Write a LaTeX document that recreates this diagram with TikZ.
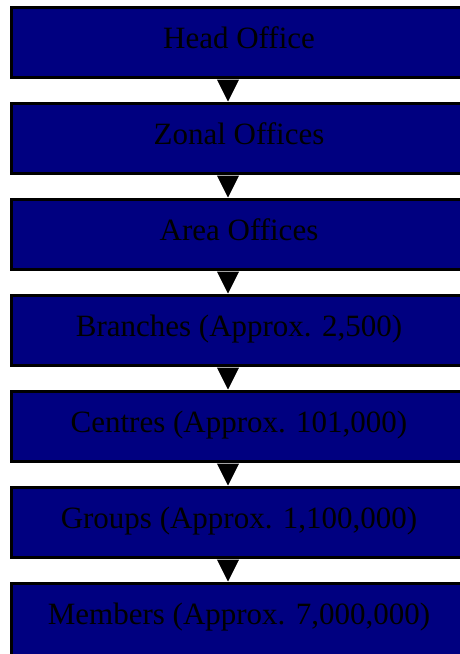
\documentclass[tikz,border=0pt]{standalone}
\usepackage{fontspec}
\setmainfont{Liberation Serif}
\usetikzlibrary{arrows.meta}
\definecolor{boxnavy}{HTML}{000080}
\begin{document}
\begin{tikzpicture}[x=1pt,y=-1pt,
  level/.style={draw=black, line width=3pt, fill=boxnavy, rectangle,
    minimum width=455pt, minimum height=70pt, inner sep=0pt,
    text height=21pt, text depth=10pt, text=black,
    font=\fontsize{31}{36}\selectfont},
  lastlevel/.style={level, minimum height=120pt, text depth=60pt},
  down/.style={line width=1pt, -{Triangle[length=22pt,width=22pt]}, shorten >=-1pt}
]
\clip (0,0) rectangle (460,654);
\useasboundingbox (0,0) rectangle (460,654);
\node[level] (n1) at (239,42.5) {Head Office};
\node[level] (n2) at (239,138.5) {Zonal Offices};
\node[level] (n3) at (239,234.5) {Area Offices};
\node[level] (n4) at (239,330.5) {Branches (Approx. 2,500)};
\node[level] (n5) at (239,426.5) {Centres (Approx. 101,000)};
\node[level] (n6) at (239,522.5) {Groups (Approx. 1,100,000)};
\node[lastlevel] (n7) at (239,643.5) {Members (Approx. 7,000,000)};
\foreach \a/\b in {n1/n2,n2/n3,n3/n4,n4/n5,n5/n6,n6/n7}{
  \draw[down] ([xshift=-11pt,yshift=-1.5pt]\a.south) -- ([xshift=-11pt,yshift=1.5pt]\b.north);
}
\end{tikzpicture}
\end{document}
